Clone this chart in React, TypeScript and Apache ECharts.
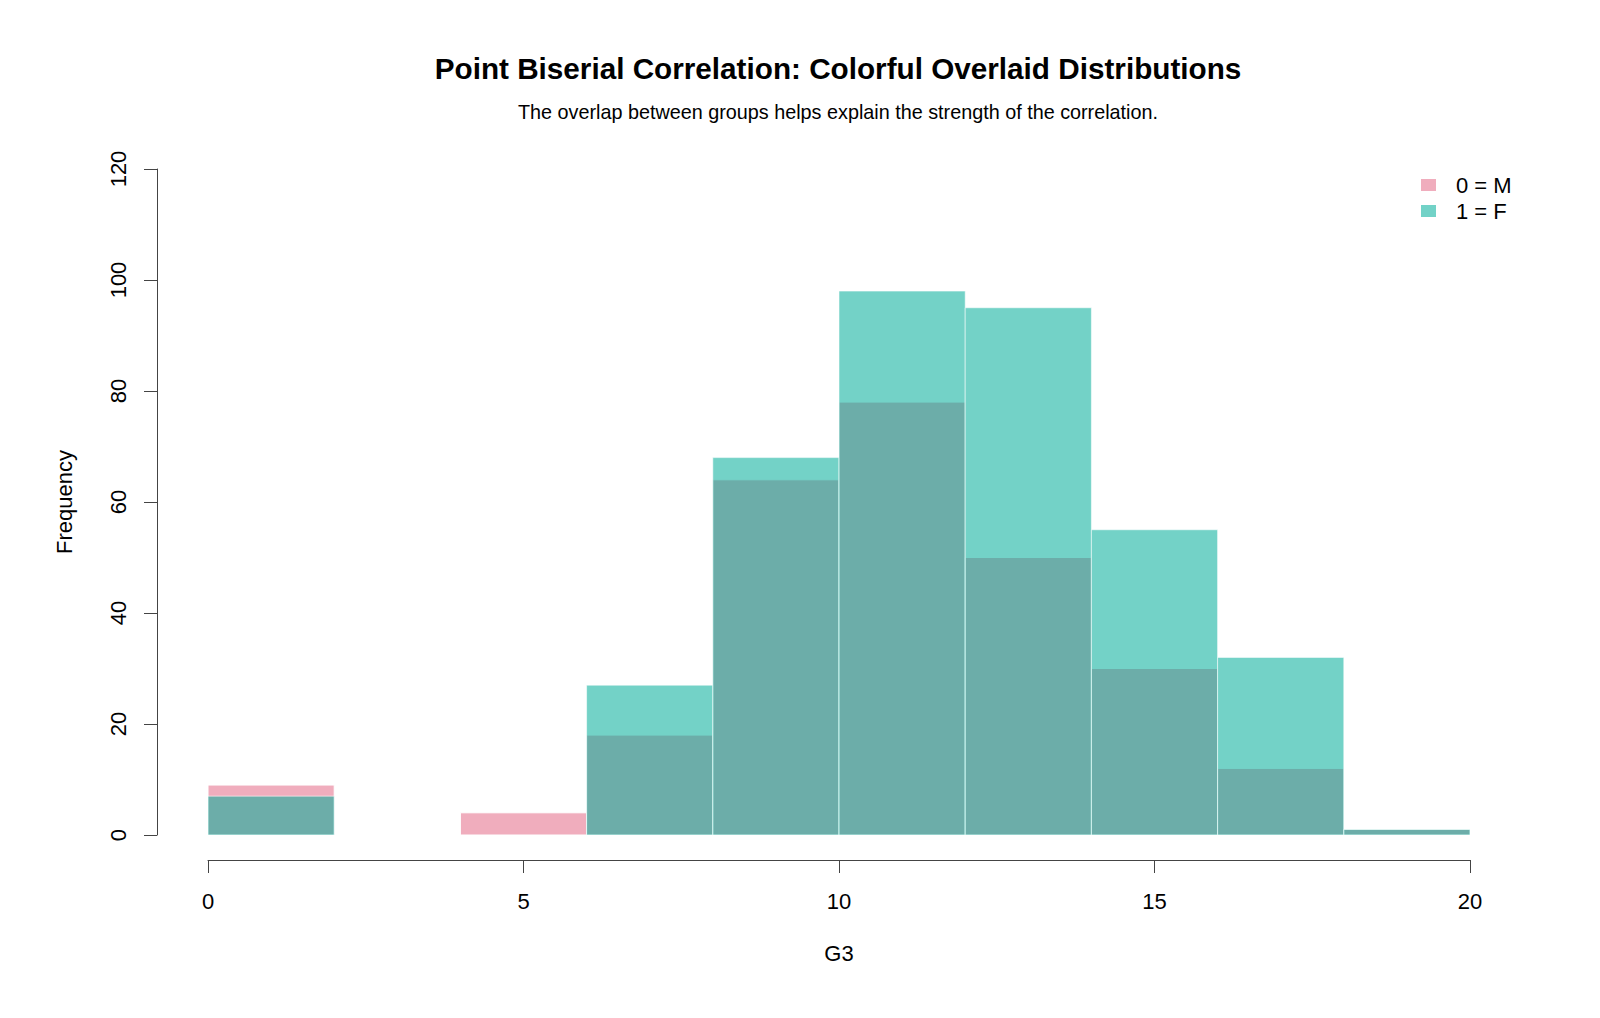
import React, { useEffect, useRef } from "react";
import * as echarts from "echarts";

// Histogram bin edges for G3 (width 2)
const binEdges = [0, 2, 4, 6, 8, 10, 12, 14, 16, 18, 20];
// Counts per bin for each group
const countsM = [9, 0, 4, 18, 64, 78, 50, 30, 12, 1];
const countsF = [7, 0, 0, 27, 68, 98, 95, 55, 32, 1];

const groupNames = ["0 = M", "1 = F"];
const xTicks = [0, 5, 10, 15, 20];
const yTicks = [0, 20, 40, 60, 80, 100, 120];

const FONT = "Liberation Sans, Arial, sans-serif";
const PINK = "#f0adbd";
const TEAL_BASE = "rgb(0,173,153)";
const TEAL_ALPHA = 0.55;
const TEAL_LEGEND = "#72d2c7";
const AXIS_COLOR = "#444";

function binRows(counts: number[]) {
  const rows: number[][] = [];
  counts.forEach((c, i) => {
    if (c > 0) rows.push([binEdges[i], binEdges[i + 1], c]);
  });
  return rows;
}

function makeRenderer(fill: string, opacity: number) {
  return (params: any, api: any) => {
    const start = api.value(0);
    const end = api.value(1);
    const count = api.value(2);
    const topLeft = api.coord([start, count]);
    const bottomRight = api.coord([end, 0]);
    return {
      type: "rect",
      shape: {
        x: topLeft[0],
        y: topLeft[1],
        width: bottomRight[0] - topLeft[0],
        height: bottomRight[1] - topLeft[1],
      },
      style: { fill, opacity, stroke: "#ffffff", lineWidth: 1 },
    };
  };
}

export default function App() {
  const ref = useRef<HTMLDivElement>(null);

  useEffect(() => {
    if (!ref.current) return;
    const chart = echarts.init(ref.current, null, { renderer: "svg" });
    chart.setOption({
      animation: false,
      backgroundColor: "#ffffff",
      title: [
        {
          text: "Point Biserial Correlation: Colorful Overlaid Distributions",
          left: 833,
          top: 48,
          textAlign: "center",
          textStyle: { fontFamily: FONT, fontSize: 29.7, fontWeight: "bold", color: "#000" },
        },
        {
          text: "The overlap between groups helps explain the strength of the correlation.",
          left: 833,
          top: 97,
          textAlign: "center",
          textStyle: { fontFamily: FONT, fontSize: 19.8, fontWeight: "normal", color: "#000" },
        },
      ],
      legend: {
        orient: "vertical",
        left: 1416,
        top: 169,
        itemWidth: 15,
        itemHeight: 12,
        itemGap: 4,
        textStyle: { fontFamily: FONT, fontSize: 22, color: "#000", padding: [0, 0, 0, 15] },
        data: [
          { name: groupNames[0], icon: "rect", itemStyle: { color: PINK, opacity: 1, borderWidth: 0 } },
          { name: groupNames[1], icon: "rect", itemStyle: { color: TEAL_LEGEND, opacity: 1, borderWidth: 0 } },
        ],
      },
      grid: { left: 208, right: 130, top: 169, bottom: 183, containLabel: false },
      xAxis: {
        type: "value",
        min: 0,
        max: 20,
        interval: 5,
        offset: 25,
        name: "G3",
        nameLocation: "middle",
        nameGap: 82,
        nameTextStyle: { fontFamily: FONT, fontSize: 22, color: "#000" },
        axisLine: { show: true, onZero: false, lineStyle: { color: AXIS_COLOR, width: 1 } },
        axisTick: { show: true, length: 13, lineStyle: { color: AXIS_COLOR } },
        axisLabel: {
          fontFamily: FONT,
          fontSize: 22,
          color: "#000",
          margin: 30,
          customValues: xTicks,
        },
        splitLine: { show: false },
      },
      yAxis: {
        type: "value",
        min: 0,
        max: 120,
        interval: 20,
        offset: 51,
        name: "Frequency",
        nameLocation: "middle",
        nameRotate: 90,
        nameGap: 82,
        nameTextStyle: { fontFamily: FONT, fontSize: 22, color: "#000" },
        axisLine: { show: true, onZero: false, lineStyle: { color: AXIS_COLOR, width: 1 } },
        axisTick: { show: true, length: 13, lineStyle: { color: AXIS_COLOR } },
        axisLabel: {
          fontFamily: FONT,
          fontSize: 22,
          color: "#000",
          rotate: 90,
          margin: 28,
          customValues: yTicks,
        },
        splitLine: { show: false },
      },
      series: [
        {
          name: groupNames[0],
          type: "custom",
          renderItem: makeRenderer(PINK, 1),
          itemStyle: { color: PINK },
          encode: { x: [0, 1], y: 2 },
          data: binRows(countsM),
        },
        {
          name: groupNames[1],
          type: "custom",
          renderItem: makeRenderer(TEAL_BASE, TEAL_ALPHA),
          itemStyle: { color: TEAL_LEGEND },
          encode: { x: [0, 1], y: 2 },
          data: binRows(countsF),
        },
      ],
    });
    return () => chart.dispose();
  }, []);

  return (
    <div
      ref={ref}
      style={{ position: "fixed", left: 0, top: 0, width: 1600, height: 1018 }}
    />
  );
}
